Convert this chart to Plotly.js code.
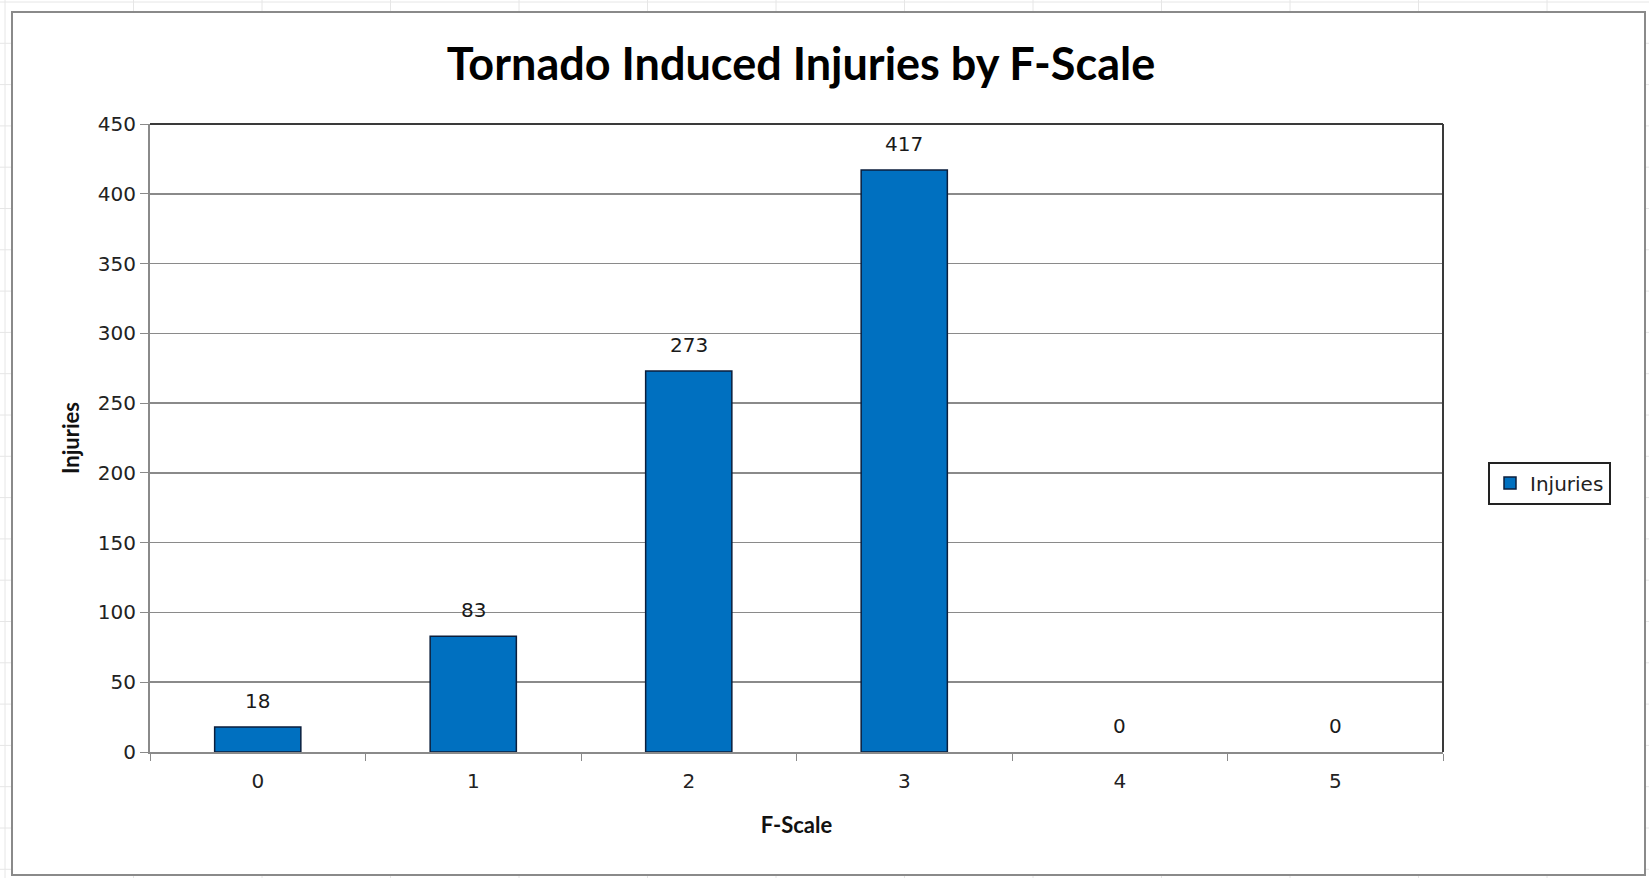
<!DOCTYPE html>
<html>
<head>
<meta charset="utf-8">
<script src="https://cdn.plot.ly/plotly-3.0.1.min.js"></script>
<style>
  html, body { margin: 0; padding: 0; background: #ffffff; }
  #chart { width: 1649px; height: 878px; }
</style>
</head>
<body>
<div id="chart"></div>
<script>
// ---- data ----
const categories = ["0", "1", "2", "3", "4", "5"];
const injuries = [18, 83, 273, 417, 0, 0];
const seriesName = "Injuries";
const chartTitle = "Tornado Induced Injuries by F-Scale";
const xTitle = "F-Scale";
const yTitle = "Injuries";
const yTicks = [0, 50, 100, 150, 200, 250, 300, 350, 400, 450];

// ---- layout geometry ----
const W = 1649, H = 878;
const M = { l: 150, r: 206, t: 124, b: 126 };
const PW = W - M.l - M.r, PH = H - M.t - M.b;
const px = x => (x - M.l) / PW;
const py = y => (H - M.b - y) / PH;

const shapes = [];
// faint spreadsheet grid behind the chart
for (let x = 5; x < W; x += 128.5) {
  shapes.push({ type: "line", xref: "paper", yref: "paper", x0: px(x), x1: px(x), y0: py(0), y1: py(H),
    line: { color: "#e6e6e6", width: 1 }, layer: "below" });
}
for (let y = 2; y < H; y += 41.3) {
  shapes.push({ type: "line", xref: "paper", yref: "paper", x0: px(0), x1: px(W), y0: py(y), y1: py(y),
    line: { color: "#e6e6e6", width: 1 }, layer: "below" });
}
// chart area (white with grey border)
shapes.push({ type: "rect", xref: "paper", yref: "paper", x0: px(12), x1: px(1645), y0: py(875), y1: py(12),
  fillcolor: "#ffffff", line: { color: "#8a8a8a", width: 2 }, layer: "below" });
// plot area dark border on top and right
shapes.push({ type: "line", xref: "paper", yref: "paper", x0: 0, x1: 1, y0: 1, y1: 1,
  line: { color: "#3a3a3a", width: 2 }, layer: "above" });
shapes.push({ type: "line", xref: "paper", yref: "paper", x0: 1, x1: 1, y0: 0, y1: 1,
  line: { color: "#3a3a3a", width: 2 }, layer: "above" });

const annotations = categories.map((c, i) => ({
  x: c, y: injuries[i], xref: "x", yref: "y",
  text: String(injuries[i]), showarrow: false,
  yanchor: "bottom", yshift: 12,
  font: { family: "DejaVu Sans", size: 20, color: "#1a1a1a" }
}));

const trace = {
  type: "bar",
  x: categories,
  y: injuries,
  name: seriesName,
  marker: {
    color: "#0070C0",
    line: { color: "#0b1e3c", width: injuries.map(v => (v > 0 ? 1.5 : 0)) }
  },
  showlegend: true,
  hoverinfo: "x+y"
};

const layout = {
  width: W, height: H,
  margin: M,
  paper_bgcolor: "#ffffff",
  plot_bgcolor: "rgba(0,0,0,0)",
  bargap: 0.6,
  title: {
    text: chartTitle,
    x: 801 / W, xanchor: "center",
    y: 1 - 64 / H, yanchor: "middle",
    font: { family: "Lato", size: 45, weight: "bold", color: "#000000" }
  },
  xaxis: {
    type: "category",
    categoryorder: "array", categoryarray: categories,
    title: { text: xTitle, standoff: 26, font: { family: "Lato", size: 22, weight: "bold", color: "#111111" } },
    tickfont: { family: "DejaVu Sans", size: 20, color: "#222222" },
    ticklabelstandoff: 10,
    showline: true, linecolor: "#8a8a8a", linewidth: 2,
    ticks: "outside", tickson: "boundaries", ticklen: 7, tickcolor: "#8a8a8a", tickwidth: 1,
    showgrid: false, zeroline: false
  },
  yaxis: {
    range: [0, 450], tickvals: yTicks,
    title: { text: yTitle, standoff: 12, font: { family: "Lato", size: 22, weight: "bold", color: "#111111" } },
    tickfont: { family: "DejaVu Sans", size: 20, color: "#222222" },
    showline: true, linecolor: "#8a8a8a", linewidth: 2,
    ticks: "outside", ticklen: 8, tickcolor: "#8a8a8a", tickwidth: 1,
    showgrid: true, gridcolor: "#8a8a8a", gridwidth: 1.5,
    zeroline: false
  },
  legend: {
    x: px(1488), xanchor: "left",
    y: py(483), yanchor: "middle",
    bgcolor: "#ffffff", bordercolor: "#222222", borderwidth: 2,
    font: { family: "DejaVu Sans", size: 20, color: "#222222" },
    itemwidth: 30
  },
  shapes: shapes,
  annotations: annotations
};

Plotly.newPlot("chart", [trace], layout, { displayModeBar: false, staticPlot: true });
</script>
</body>
</html>
